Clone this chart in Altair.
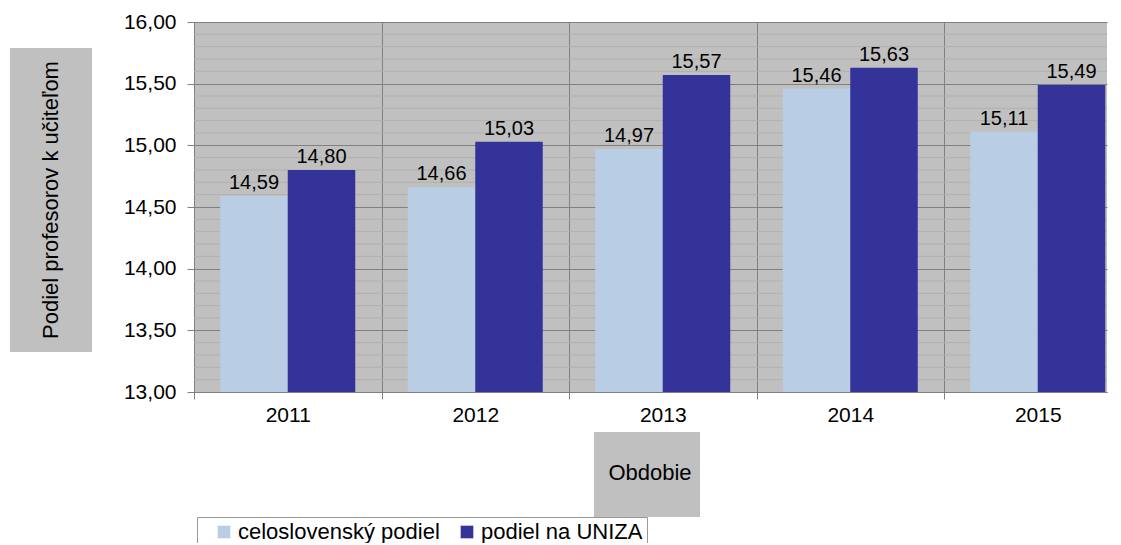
import altair as alt
import pandas as pd

years = [2011, 2012, 2013, 2014, 2015]
celo = [14.59, 14.66, 14.97, 15.46, 15.11]
uniza = [14.80, 15.03, 15.57, 15.63, 15.49]
series_names = ["celoslovenský podiel", "podiel na UNIZA"]
series_colors = ["#b9cde5", "#333399"]
y_major = [13.0, 13.5, 14.0, 14.5, 15.0, 15.5, 16.0]
y_minor = [13.1, 13.2, 13.3, 13.4, 13.6, 13.7, 13.8, 13.9, 14.1, 14.2, 14.3, 14.4,
           14.6, 14.7, 14.8, 14.9, 15.1, 15.2, 15.3, 15.4, 15.6, 15.7, 15.8, 15.9]
x_bounds = [2010.5, 2011.5, 2012.5, 2013.5, 2014.5]
y_title = "Podiel profesorov k učiteľom"
x_title = "Obdobie"

rows = []
for i, yr in enumerate(years):
    rows.append({"year": yr, "series": series_names[0], "value": celo[i], "side": -1})
    rows.append({"year": yr, "series": series_names[1], "value": uniza[i], "side": 1})
df = pd.DataFrame(rows)

FONT = "Liberation Sans"
W, H = 913, 370
BAND = 187.5
xscale = alt.Scale(domain=[2010.5, 2010.5 + W / BAND], nice=False, zero=False)
yscale = alt.Scale(domain=[13, 16], nice=False, zero=False)

minor = alt.Chart(pd.DataFrame({"v": y_minor})).mark_rule(color="#b0b0b0", strokeWidth=1).encode(
    y=alt.Y("v:Q", scale=yscale,
            axis=alt.Axis(values=y_major, grid=True, gridColor="#808080", tickColor="#808080",
                          labelExpr="replace(format(datum.value, '.2f'), '.', ',')",
                          labelOverlap=False, tickSize=7, labelPadding=11,
                          labelFontSize=21, labelFont=FONT, labelColor="#000000",
                          domainColor="#808080", title=None)),
)

base = alt.Chart(df).transform_calculate(
    x0="datum.year + (datum.side < 0 ? -0.36 : 0)",
    x1="datum.year + (datum.side < 0 ? 0 : 0.36)",
    xm="datum.year + datum.side * 0.18",
    lbl="replace(format(datum.value, '.2f'), '.', ',')",
)

bars = base.mark_bar(clip=True).encode(
    x=alt.X("x0:Q", scale=xscale, title=None,
            axis=alt.Axis(values=x_bounds, grid=True, gridColor="#808080", tickColor="#808080",
                          labelExpr="'' + (datum.value + 0.5)",
                          labelOffset=BAND / 2, labelOverlap=False, labelFlush=False,
                          tickSize=7, labelPadding=5,
                          labelFontSize=21, labelFont=FONT, labelColor="#000000",
                          domainColor="#808080")),
    x2="x1:Q",
    y=alt.Y("value:Q", scale=yscale, title=None),
    y2=alt.datum(13),
    color=alt.Color("series:N", scale=alt.Scale(domain=series_names, range=series_colors),
                    legend=alt.Legend(title=None, orient="none", legendX=3, legendY=495,
                                      direction="horizontal", symbolType="square", symbolSize=160,
                                      symbolStrokeWidth=0, labelFontSize=22, labelFont=FONT,
                                      labelColor="#000000", fillColor="#ffffff", strokeColor="#999999",
                                      padding=4, symbolOffset=12, columnPadding=4, labelOffset=3,
                                      labelLimit=400)),
)

labels = base.mark_text(baseline="bottom", dy=-3, fontSize=20, font=FONT, color="#000000").encode(
    x=alt.X("xm:Q", scale=xscale),
    y=alt.Y("value:Q", scale=yscale),
    text="lbl:N",
)

one = alt.Chart(pd.DataFrame({"t": [y_title], "u": [x_title]}))
ybox = one.mark_rect(color="#c0c0c0").encode(
    x=alt.value(-184), x2=alt.value(-102), y=alt.value(26), y2=alt.value(330))
xbox = one.mark_rect(color="#c0c0c0").encode(
    x=alt.value(400), x2=alt.value(506), y=alt.value(410), y2=alt.value(495))
ytxt = one.mark_text(angle=270, fontSize=22, font=FONT, color="#000000", align="center", baseline="middle").encode(
    x=alt.value(-143), y=alt.value(178), text="t:N")
xtxt = one.mark_text(fontSize=22, font=FONT, color="#000000", align="center", baseline="middle").encode(
    x=alt.value(456), y=alt.value(451), text="u:N")

chart = alt.layer(minor, ybox, xbox, bars, labels, ytxt, xtxt).properties(
    width=W, height=H,
    padding={"left": 186, "top": 14, "right": 6, "bottom": 151},
    autosize=alt.AutoSizeParams(type="none"),
    background="#ffffff",
).configure_view(fill="#c0c0c0", stroke=None)

chart.save("out.html", embed_options={"renderer": "svg", "actions": False})
